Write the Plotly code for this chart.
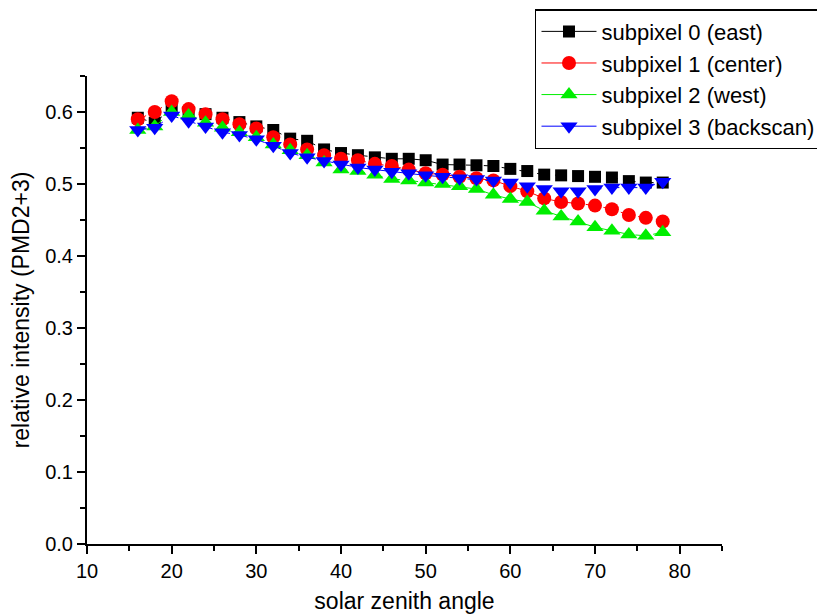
import plotly.graph_objects as go

sza = [16, 18, 20, 22, 24, 26, 28, 30, 32, 34, 36, 38, 40, 42, 44, 46,
       48, 50, 52, 54, 56, 58, 60, 62, 64, 66, 68, 70, 72, 74, 76, 78]

sub0_east = [0.592, 0.585, 0.605, 0.600, 0.597, 0.592, 0.586, 0.580, 0.575, 0.563, 0.560, 0.548,
             0.543, 0.540, 0.537, 0.535, 0.535, 0.533, 0.527, 0.527, 0.526, 0.525, 0.521, 0.518,
             0.513, 0.512, 0.511, 0.510, 0.509, 0.504, 0.502, 0.502]
sub1_center = [0.590, 0.600, 0.615, 0.604, 0.597, 0.590, 0.583, 0.577, 0.565, 0.555, 0.548, 0.540,
               0.535, 0.533, 0.528, 0.525, 0.520, 0.515, 0.513, 0.510, 0.508, 0.505, 0.497, 0.490,
               0.480, 0.475, 0.473, 0.470, 0.465, 0.457, 0.453, 0.448]
sub2_west = [0.575, 0.580, 0.600, 0.595, 0.585, 0.578, 0.572, 0.565, 0.555, 0.547, 0.540, 0.530,
             0.520, 0.518, 0.513, 0.507, 0.505, 0.502, 0.500, 0.497, 0.493, 0.485, 0.479, 0.475,
             0.463, 0.455, 0.448, 0.440, 0.435, 0.430, 0.428, 0.433]
sub3_backscan = [0.575, 0.578, 0.595, 0.587, 0.580, 0.572, 0.568, 0.562, 0.553, 0.543, 0.537, 0.532,
                 0.527, 0.523, 0.520, 0.517, 0.515, 0.512, 0.510, 0.508, 0.507, 0.505, 0.502, 0.497,
                 0.493, 0.490, 0.490, 0.493, 0.495, 0.495, 0.495, 0.503]

names = ["subpixel 0 (east)", "subpixel 1 (center)", "subpixel 2 (west)", "subpixel 3 (backscan)"]
colors = ["#000000", "#ff0000", "#00ee00", "#0000ff"]
symbols = ["square", "circle", "triangle-up", "triangle-down"]
sizes = [12, 14, 15, 15]
series = [sub0_east, sub1_center, sub2_west, sub3_backscan]

fig = go.Figure()
for nm, col, sym, sz, ys in zip(names, colors, symbols, sizes, series):
    fig.add_trace(go.Scatter(
        x=sza, y=ys, name=nm, mode="lines+markers", showlegend=False,
        line=dict(color=col, width=1, dash="dash"),
        marker=dict(symbol=sym, size=sz, color=col, line=dict(width=0)),
    ))
# legend entries (solid line + marker, as in the reference legend)
for nm, col, sym, sz in zip(names, colors, symbols, sizes):
    fig.add_trace(go.Scatter(
        x=[None], y=[None], name=nm, mode="lines+markers",
        line=dict(color=col, width=1),
        marker=dict(symbol=sym, size=sz, color=col, line=dict(width=0)),
    ))

font_family = "Liberation Sans, Arial, sans-serif"
axis_common = dict(
    showline=True, linecolor="black", linewidth=2,
    ticks="outside", ticklen=8, tickwidth=2, tickcolor="black",
    showgrid=False, zeroline=False, mirror=False,
    tickfont=dict(size=20, color="black", family=font_family),
)

fig.update_layout(
    width=817, height=606,
    margin=dict(l=79, r=103, t=68, b=70, autoexpand=False),
    paper_bgcolor="white", plot_bgcolor="white",
    font=dict(family=font_family, color="black"),
    xaxis=dict(range=[10, 85], dtick=10, tick0=10, automargin=False,
               minor=dict(dtick=5, ticks="outside", ticklen=5, tickwidth=2, tickcolor="black"),
               title=dict(text="solar zenith angle", font=dict(size=23), standoff=26),
               **axis_common),
    yaxis=dict(range=[0, 0.65], dtick=0.1, tickformat=".1f", automargin=False,
               minor=dict(dtick=0.05, ticks="outside", ticklen=5, tickwidth=2, tickcolor="black"),
               title=dict(text="relative intensity (PMD2+3)", font=dict(size=23), standoff=14),
               **axis_common),
    legend=dict(x=0.7055, y=1.143, xanchor="left", yanchor="top",
                bordercolor="black", borderwidth=1.5, bgcolor="white",
                font=dict(size=22, color="black"), tracegroupgap=0,
                itemwidth=55),
    showlegend=True,
)

fig.write_html("out.html")
